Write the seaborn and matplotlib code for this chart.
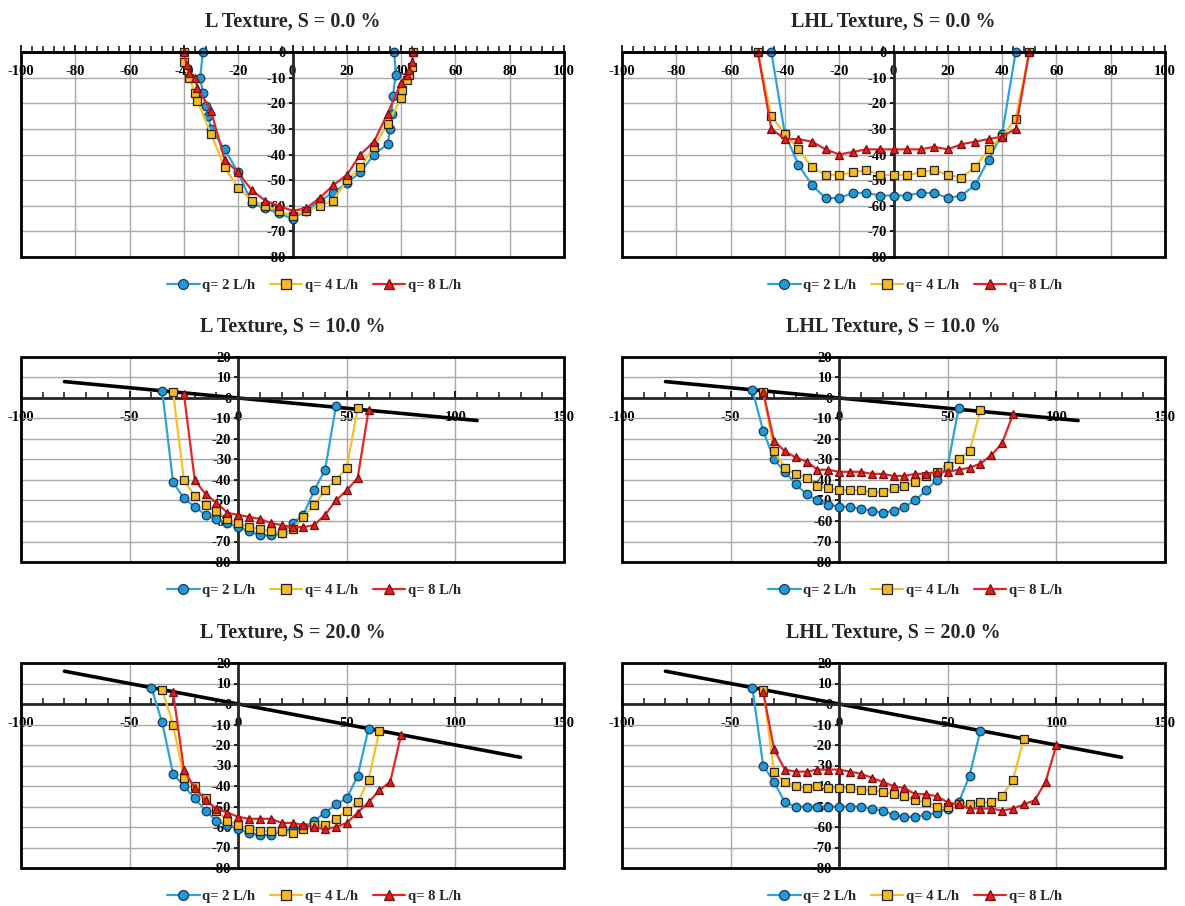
import numpy as np
import matplotlib
matplotlib.use('Agg')
import matplotlib.pyplot as plt
import seaborn as sns
from matplotlib.patches import Rectangle
from matplotlib.ticker import MultipleLocator

# 범례 라벨
labels = ['q= 2 L/h', 'q= 4 L/h', 'q= 8 L/h']

# L Texture, S = 0 %
l0_q2_x = [-33, -34, -33, -32, -31, -30, -25, -20, -15, -10, -5, 0, 5, 10, 15, 20, 25, 30, 35, 36, 36.5, 37, 38, 37.5]
l0_q2_y = [0, -10, -16, -21, -25, -30, -38, -47, -59, -61, -63, -65, -62, -58, -55, -51, -47, -40, -36, -30, -24, -17, -9, 0]
l0_q4_x = [-40, -40, -38, -36, -35, -30, -25, -20, -15, -10, -5, 0, 5, 10, 15, 20, 25, 30, 35, 40, 40.5, 42, 43, 44, 44.5]
l0_q4_y = [0, -4, -10, -16, -19, -32, -45, -53, -58, -60, -62, -64, -62, -60, -58, -50, -45, -37, -28, -18, -15, -11, -9, -6, 0]
l0_q8_x = [-40, -39, -38, -36, -35, -30, -25, -20, -15, -10, -5, 0, 5, 10, 15, 20, 25, 30, 35, 40, 42, 43, 44, 44.5]
l0_q8_y = [0, -5, -8, -10, -14, -23, -42, -47, -54, -58, -60, -62, -61, -57, -52, -48, -40, -35, -24, -12, -9, -7, -4, 0]

# LHL Texture, S = 0 %
lhl0_q2_x = [-45, -40, -35, -30, -25, -20, -15, -10, -5, 0, 5, 10, 15, 20, 25, 30, 35, 40, 45]
lhl0_q2_y = [0, -32, -44, -52, -57, -57, -55, -55, -56, -56, -56, -55, -55, -57, -56, -52, -42, -32, 0]
lhl0_q4_x = [-50, -45, -40, -35, -30, -25, -20, -15, -10, -5, 0, 5, 10, 15, 20, 25, 30, 35, 40, 45, 50]
lhl0_q4_y = [0, -25, -32, -38, -45, -48, -48, -47, -46, -48, -48, -48, -47, -46, -48, -49, -45, -38, -33, -26, 0]
lhl0_q8_x = [-50, -45, -40, -35, -30, -25, -20, -15, -10, -5, 0, 5, 10, 15, 20, 25, 30, 35, 40, 45, 50]
lhl0_q8_y = [0, -30, -34, -34, -35, -38, -40, -39, -38, -38, -38, -38, -38, -37, -38, -36, -35, -34, -33, -30, 0]

# L Texture, S = 10 %
l10_q2_x = [-35, -30, -25, -20, -15, -10, -5, 0, 5, 10, 15, 20, 25, 30, 35, 40, 45]
l10_q2_y = [3.5, -41, -49, -53, -57, -59, -61, -63, -65, -67, -67, -66, -61, -57, -45, -35, -4]
l10_q4_x = [-30, -25, -20, -15, -10, -5, 0, 5, 10, 15, 20, 25, 30, 35, 40, 45, 50, 55]
l10_q4_y = [3, -40, -48, -52, -55, -59, -61, -63, -64, -65, -66, -64, -58, -52, -45, -40, -34, -5]
l10_q8_x = [-25, -20, -15, -10, -5, 0, 5, 10, 15, 20, 25, 30, 35, 40, 45, 50, 55, 60]
l10_q8_y = [2, -40, -47, -51, -56, -57, -58, -59, -61, -62, -63, -63, -62, -57, -50, -45, -39, -6]

# LHL Texture, S = 10 %
lhl10_q2_x = [-40, -35, -30, -25, -20, -15, -10, -5, 0, 5, 10, 15, 20, 25, 30, 35, 40, 45, 50, 55]
lhl10_q2_y = [4, -16, -30, -36, -42, -47, -50, -52, -53, -53, -54, -55, -56, -55, -53, -50, -45, -40, -33, -5]
lhl10_q4_x = [-35, -30, -25, -20, -15, -10, -5, 0, 5, 10, 15, 20, 25, 30, 35, 40, 45, 50, 55, 60, 65]
lhl10_q4_y = [3, -26, -34, -37, -39, -43, -44, -45, -45, -45, -46, -46, -44, -43, -41, -38, -36, -33, -30, -26, -6]
lhl10_q8_x = [-35, -30, -25, -20, -15, -10, -5, 0, 5, 10, 15, 20, 25, 30, 35, 40, 45, 50, 55, 60, 65, 70, 75, 80]
lhl10_q8_y = [3, -21, -26, -29, -31, -35, -35, -36, -36, -36, -37, -37, -38, -38, -37, -37, -36, -36, -35, -34, -32, -28, -22, -8]

# L Texture, S = 20 %
l20_q2_x = [-40, -35, -30, -25, -20, -15, -10, -5, 0, 5, 10, 15, 20, 25, 30, 35, 40, 45, 50, 55, 60]
l20_q2_y = [8, -9, -34, -40, -46, -52, -57, -59, -61, -63, -64, -64, -62, -61, -60, -57, -53, -49, -46, -35, -12]
l20_q4_x = [-35, -30, -25, -20, -15, -10, -5, 0, 5, 10, 15, 20, 25, 30, 35, 40, 45, 50, 55, 60, 65]
l20_q4_y = [7, -10, -36, -40, -46, -52, -57, -59, -61, -62, -62, -62, -63, -61, -59, -59, -56, -52, -48, -37, -13]
l20_q8_x = [-30, -25, -20, -15, -10, -5, 0, 5, 10, 15, 20, 25, 30, 35, 40, 45, 50, 55, 60, 65, 70, 75]
l20_q8_y = [6, -32, -41, -47, -51, -53, -55, -56, -56, -56, -58, -58, -59, -60, -61, -60, -58, -53, -48, -42, -38, -15]

# LHL Texture, S = 20 %
lhl20_q2_x = [-40, -35, -30, -25, -20, -15, -10, -5, 0, 5, 10, 15, 20, 25, 30, 35, 40, 45, 50, 55, 60, 65]
lhl20_q2_y = [8, -30, -38, -48, -50, -50, -50, -50, -50, -50, -50, -51, -52, -54, -55, -55, -54, -53, -51, -48, -35, -13]
lhl20_q4_x = [-35, -30, -25, -20, -15, -10, -5, 0, 5, 10, 15, 20, 25, 30, 35, 40, 45, 50, 55, 60, 65, 70, 75, 80, 85]
lhl20_q4_y = [7, -33, -38, -40, -41, -40, -41, -41, -41, -42, -42, -43, -44, -45, -47, -48, -50, -50, -49, -49, -48, -48, -45, -37, -17]
lhl20_q8_x = [-35, -30, -25, -20, -15, -10, -5, 0, 5, 10, 15, 20, 25, 30, 35, 40, 45, 50, 55, 60, 65, 70, 75, 80, 85, 90, 95, 100]
lhl20_q8_y = [6, -22, -32, -33, -33, -32, -32, -32, -33, -34, -36, -38, -40, -41, -44, -44, -45, -48, -49, -51, -51, -51, -52, -51, -49, -47, -38, -20]

# 경사면 (지표면) 선
slope10_x = [-80, 110]
slope10_y = [8, -11]
slope20_x = [-80, 130]
slope20_y = [16, -26]

sns.set_theme(style='white')
plt.rcParams['font.family'] = ['Liberation Serif', 'DejaVu Serif']
plt.rcParams['font.weight'] = 'bold'
plt.rcParams['axes.unicode_minus'] = False

# 시리즈 스타일
styles = [
    dict(color='#2aa3d9', marker='o', markerfacecolor='#1f9ad6', markeredgecolor='#1b3a5c'),
    dict(color='#f3c12b', marker='s', markerfacecolor='#f5b922', markeredgecolor='#222222'),
    dict(color='#e1262b', marker='^', markerfacecolor='#e0201c', markeredgecolor='#7a0d0d'),
]

W, H = 1185, 906
fig = plt.figure(figsize=(W / 100, H / 100), dpi=100)


def panel(left, top, title, series, xlim, ylim, xmajor, xminor, slope=None):
    ax = fig.add_axes([left / W, 1 - (top + 205) / H, 543 / W, 205 / H])
    ax.set_axisbelow(True)
    ax.grid(True, which='major', color='#a8a8a8', lw=1)
    if slope is not None:
        sns.lineplot(x=slope[0], y=slope[1], color='black', lw=2.6, ax=ax,
                     estimator=None, sort=False, zorder=2)
    for (xs, ys), lab, st in zip(series, labels, styles):
        sns.lineplot(x=xs, y=ys, ax=ax, label=lab, estimator=None, sort=False,
                     lw=1.6, markersize=6.2, markeredgewidth=0.9, clip_on=False,
                     zorder=3, **st)
    ax.set_xlim(xlim)
    ax.set_ylim(ylim)
    ax.xaxis.set_major_locator(MultipleLocator(xmajor))
    ax.xaxis.set_minor_locator(MultipleLocator(xminor))
    ax.yaxis.set_major_locator(MultipleLocator(10))
    for s in ['top', 'right']:
        ax.spines[s].set_visible(False)
    ax.spines['bottom'].set_position(('data', 0))
    ax.spines['left'].set_position(('data', 0))
    ax.spines['bottom'].set_linewidth(2)
    ax.spines['left'].set_linewidth(2)
    ax.spines['bottom'].set_zorder(2.5)
    ax.spines['left'].set_zorder(2.5)
    ax.add_patch(Rectangle((0, 0), 1, 1, transform=ax.transAxes, fill=False,
                           lw=2, ec='black', clip_on=False, zorder=4))
    ax.tick_params(axis='x', which='major', direction='in', length=5, width=1.2,
                   pad=9.5, labelsize=10.5, colors='black', bottom=True)
    ax.tick_params(axis='x', which='minor', direction='in', length=4, width=1.2,
                   bottom=True)
    ax.tick_params(axis='y', which='major', direction='out', length=3, width=1.2,
                   pad=2, labelsize=10.5, colors='black', left=True)
    ax.set_xlabel('')
    ax.set_ylabel('')
    ax.set_title(title, fontsize=14.5, fontweight='bold', pad=18)
    ax.legend(loc='center', bbox_to_anchor=(0.54, -0.14), ncol=3, frameon=False,
              handlelength=2.2, handletextpad=0.2, columnspacing=1.0,
              fontsize=10.5, markerscale=1.15)
    return ax


lx, rx = 21, 622
panel(lx, 52, 'L Texture, S = 0.0 %',
      [(l0_q2_x, l0_q2_y), (l0_q4_x, l0_q4_y), (l0_q8_x, l0_q8_y)],
      (-100, 100), (-80, 0), 20, 4)
panel(rx, 52, 'LHL Texture, S = 0.0 %',
      [(lhl0_q2_x, lhl0_q2_y), (lhl0_q4_x, lhl0_q4_y), (lhl0_q8_x, lhl0_q8_y)],
      (-100, 100), (-80, 0), 20, 4)
panel(lx, 357, 'L Texture, S = 10.0 %',
      [(l10_q2_x, l10_q2_y), (l10_q4_x, l10_q4_y), (l10_q8_x, l10_q8_y)],
      (-100, 150), (-80, 20), 50, 10, slope=(slope10_x, slope10_y))
panel(rx, 357, 'LHL Texture, S = 10.0 %',
      [(lhl10_q2_x, lhl10_q2_y), (lhl10_q4_x, lhl10_q4_y), (lhl10_q8_x, lhl10_q8_y)],
      (-100, 150), (-80, 20), 50, 10, slope=(slope10_x, slope10_y))
panel(lx, 663, 'L Texture, S = 20.0 %',
      [(l20_q2_x, l20_q2_y), (l20_q4_x, l20_q4_y), (l20_q8_x, l20_q8_y)],
      (-100, 150), (-80, 20), 50, 10, slope=(slope20_x, slope20_y))
panel(rx, 663, 'LHL Texture, S = 20.0 %',
      [(lhl20_q2_x, lhl20_q2_y), (lhl20_q4_x, lhl20_q4_y), (lhl20_q8_x, lhl20_q8_y)],
      (-100, 150), (-80, 20), 50, 10, slope=(slope20_x, slope20_y))

fig.savefig('out.png', dpi=100, facecolor='white')
